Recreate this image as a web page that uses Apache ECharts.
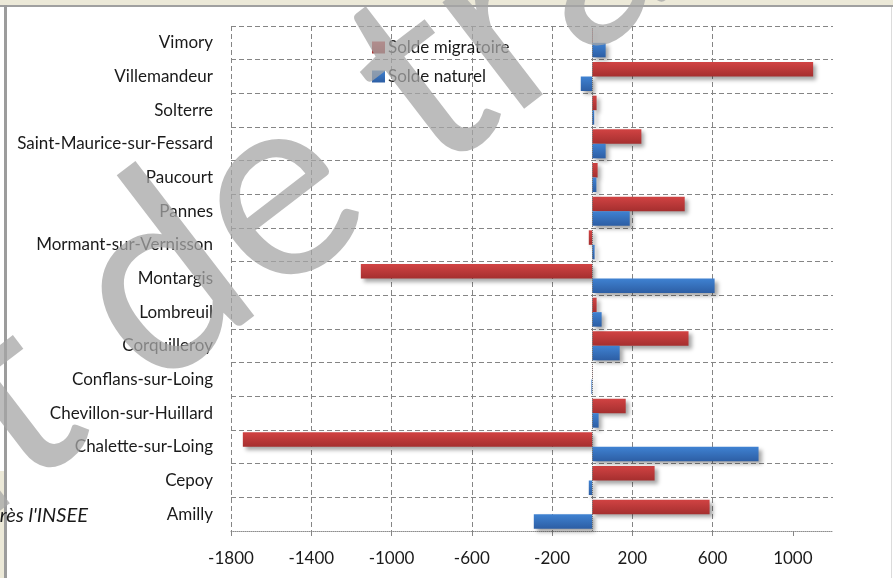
<!DOCTYPE html>
<html>
<head>
<meta charset="utf-8">
<script src="https://cdn.jsdelivr.net/npm/echarts@6/dist/echarts.min.js"></script>
<style>
  html, body { margin: 0; padding: 0; background: #ffffff; }
  #chart { width: 893px; height: 578px; }
</style>
</head>
<body>
<div id="chart"></div>
<script>
// Communes, listed from the bottom of the chart upwards
const communes = ['Amilly', 'Cepoy', 'Chalette-sur-Loing', 'Chevillon-sur-Huillard',
  'Conflans-sur-Loing', 'Corquilleroy', 'Lombreuil', 'Montargis',
  'Mormant-sur-Vernisson', 'Pannes', 'Paucourt', 'Saint-Maurice-sur-Fessard',
  'Solterre', 'Villemandeur', 'Vimory'];

// Solde migratoire (red) and solde naturel (blue)
const soldeMigratoire = [585, 311, -1741, 167, 1, 480, 22, -1153, -17, 461, 27, 245, 22, 1101, 4];
const soldeNaturel = [-291, -17, 829, 32, -4, 137, 47, 610, 12, 187, 21, 67, 10, -57, 67];

// Value axis ticks
const xTicks = [-1800, -1400, -1000, -600, -200, 200, 600, 1000];
const xMin = -1800;
const xMax = 1200;

const seriesNames = ['Solde migratoire', 'Solde naturel'];
const sourceText = "d'après l'INSEE";
const watermarkText = 'Document de travail';

const FONT = 'Lato, "Open Sans", sans-serif';
const gridLine = { color: '#858585', width: 1, type: [5, 3] };

const redFill = new echarts.graphic.LinearGradient(0, 0, 0, 1, [
  { offset: 0, color: '#d14343' }, { offset: 1, color: '#a52f2f' }]);
const blueFill = new echarts.graphic.LinearGradient(0, 0, 0, 1, [
  { offset: 0, color: '#3f82d2' }, { offset: 1, color: '#2d5ea4' }]);

const barShadow = {
  shadowColor: 'rgba(0,0,0,0.35)', shadowBlur: 4, shadowOffsetX: 3, shadowOffsetY: 3
};

// Watermark: rotated text, anchored so that the "t" of "Document" starts at tStart
const wmSize = 265;
const wmFont = 'normal ' + wmSize + 'px Lato, sans-serif';
const wmAngle = 37.5 * Math.PI / 180;
const measureCtx = document.createElement('canvas').getContext('2d');
measureCtx.font = wmFont;
const wmPrefix = measureCtx.measureText('Documen').width;
const tStart = [20, 488];                 // baseline point, start of the "t"
const midShift = 0.3 * wmSize;             // baseline -> middle of the em box
const sinA = Math.sin(wmAngle), cosA = Math.cos(wmAngle);
const midX = tStart[0] - midShift * sinA;
const midY = tStart[1] - midShift * cosA;
const wmX = midX - wmPrefix * cosA;
const wmY = midY + wmPrefix * sinA;

const chart = echarts.init(document.getElementById('chart'), null, { renderer: 'canvas' });

chart.setOption({
  animation: false,
  backgroundColor: '#ffffff',
  grid: { left: 231, right: 60, top: 26, bottom: 47, containLabel: false },
  legend: {
    orient: 'vertical', left: 372, top: 39, padding: 0,
    itemWidth: 13, itemHeight: 12, itemGap: 12, icon: 'rect',
    textStyle: { fontFamily: FONT, fontSize: 17, color: '#1a1a1a', padding: [0, 0, 0, -2] },
    data: seriesNames
  },
  xAxis: {
    type: 'value', min: xMin, max: xMax, interval: 400,
    axisLine: { show: true, onZero: false, lineStyle: { color: '#8e8e8e', type: 'dotted' } },
    axisTick: { show: true, length: 5, customValues: xTicks, lineStyle: gridLine },
    axisLabel: {
      customValues: xTicks, fontFamily: FONT, fontSize: 17, color: '#1a1a1a', margin: 19,
      formatter: function (v) { return String(v); }
    },
    splitLine: { show: true, showMaxLine: false, lineStyle: gridLine }
  },
  yAxis: {
    type: 'category', data: communes,
    axisLine: { show: false }, axisTick: { show: false },
    axisLabel: { fontFamily: FONT, fontSize: 17, color: '#1a1a1a', margin: 18 },
    splitLine: { show: true, showMinLine: false, lineStyle: gridLine }
  },
  series: [
    {
      name: seriesNames[0], type: 'bar', data: soldeMigratoire,
      barWidth: 14.5, barGap: '0%',
      itemStyle: Object.assign({ color: redFill }, barShadow),
      markLine: {
        silent: true, symbol: 'none', label: { show: false },
        lineStyle: { color: '#707070', type: 'dotted', width: 1 },
        data: [{ xAxis: 0 }]
      }
    },
    {
      name: seriesNames[1], type: 'bar', data: soldeNaturel,
      barWidth: 14.5, barGap: '0%',
      itemStyle: Object.assign({ color: blueFill }, barShadow)
    }
  ],
  graphic: [
    // page frame around the chart
    { type: 'rect', z: 1, shape: { x: 0, y: 0, width: 893, height: 5 }, style: { fill: '#ece9d8' } },
    { type: 'rect', z: 1, shape: { x: 0, y: 5, width: 893, height: 2 }, style: { fill: '#a0a0a0' } },
    { type: 'rect', z: 1, shape: { x: 0, y: 471, width: 4, height: 107 }, style: { fill: '#ece9d8' } },
    { type: 'rect', z: 1, shape: { x: 4, y: 5, width: 3, height: 573 }, style: { fill: '#9c9c9c' } },
    { type: 'rect', z: 1, shape: { x: 891, y: 7, width: 1, height: 571 }, style: { fill: '#dcdcdc' } },
    {
      type: 'text', z: 5, x: 88, y: 516,
      style: {
        text: sourceText, fill: '#1a1a1a', align: 'right', verticalAlign: 'middle',
        font: 'italic 20px Lato, sans-serif'
      }
    },
    {
      type: 'text', z: 100, zlevel: 1, x: wmX, y: wmY, rotation: wmAngle,
      silent: true,
      style: {
        text: watermarkText, fill: 'rgba(165,165,165,0.75)',
        align: 'left', verticalAlign: 'middle', font: wmFont
      }
    }
  ]
});
</script>
</body>
</html>
